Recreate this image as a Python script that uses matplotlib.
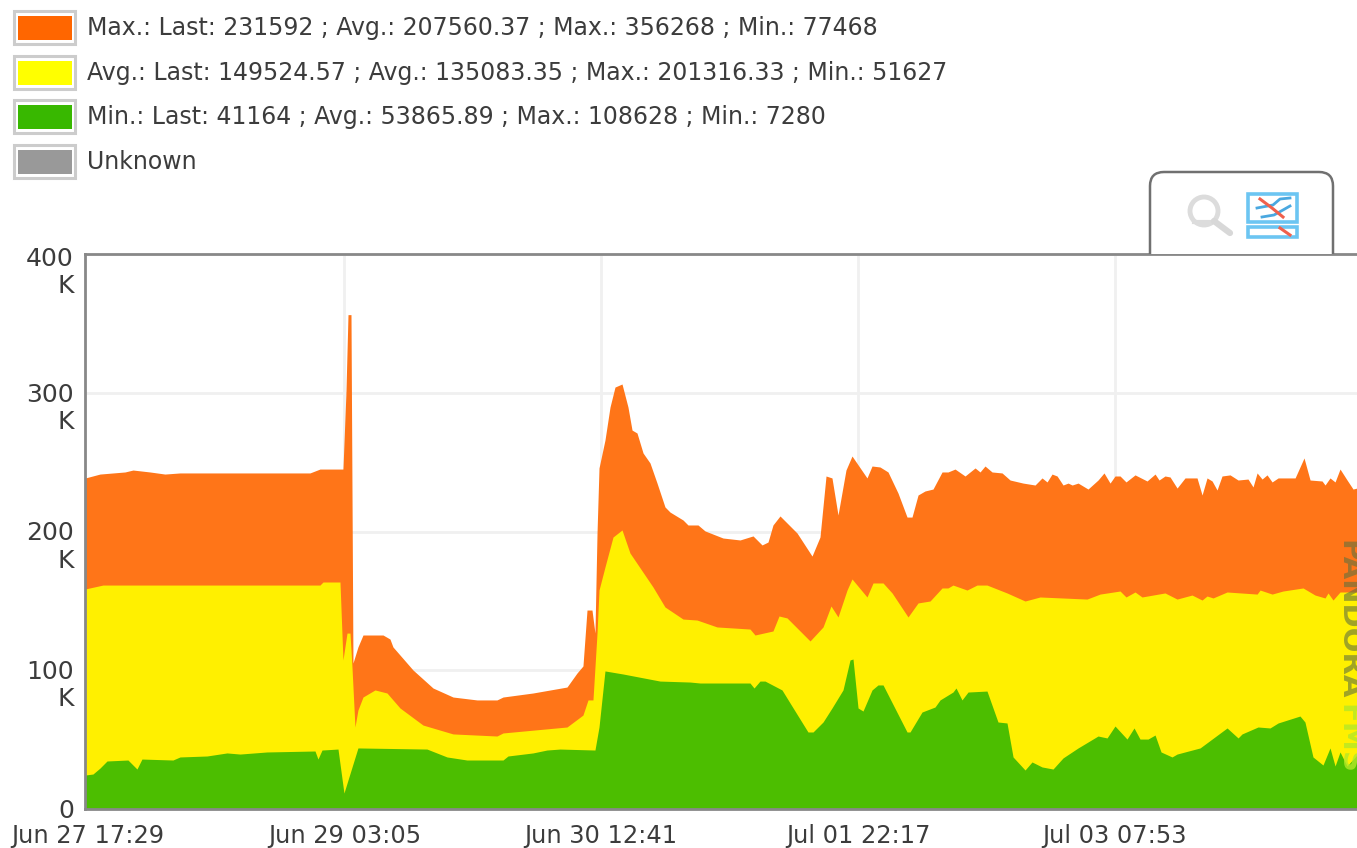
import matplotlib
matplotlib.use('Agg')
import matplotlib.pyplot as plt
from matplotlib.patches import Rectangle, Circle, PathPatch
from matplotlib.path import Path
from matplotlib.transforms import ScaledTranslation

# hours since Jun 27 17:29, values in thousands
max_hours = [-0.3, 1.61, 4.88, 5.93, 8.15, 10.11, 12.08, 14.69, 17.31, 22.54, 29.08, 30.39, 33.40, 33.79, 34.06, 34.45,
             34.71, 35.36, 36.02, 38.64, 39.55, 39.94, 42.56, 45.18, 47.80, 50.94, 53.55, 54.34, 58.26, 62.71, 64.02,
             64.80, 65.33, 65.98, 66.37, 66.64, 66.90, 67.68, 68.34, 68.99, 69.91, 70.69, 71.22, 71.87, 72.66, 73.57,
             74.49, 75.53, 76.19, 77.89, 78.54, 79.85, 80.77, 83.12, 85.35, 87.05, 88.23, 89.01, 89.66, 90.58, 92.81,
             94.77, 95.81, 96.60, 97.38, 98.17, 99.21, 100.00, 101.96, 102.62, 103.66, 104.71, 106.02, 107.20, 107.85,
             108.64, 109.55, 110.60, 111.78, 112.56, 113.48, 114.79, 116.10, 116.75, 117.40, 118.32, 119.63, 120.68,
             122.38, 123.95, 124.86, 125.52, 126.17, 126.83, 127.61, 128.27, 128.80, 129.58, 130.88, 132.19, 132.97,
             133.76, 134.41, 135.07, 135.85, 137.03, 138.60, 139.65, 140.17, 140.95, 141.61, 142.53, 143.57, 145.14,
             145.80, 146.45, 147.11, 147.76, 148.41, 149.46, 150.51, 151.81, 152.47, 153.00, 153.65, 154.30, 154.96,
             155.75, 157.97, 159.14, 159.93, 161.50, 161.89, 162.54, 163.20, 163.85, 164.77, 165.55, 166.07]
max_vals = [238.6, 241.4, 242.9, 244.3, 242.9, 241.4, 242.2, 242.2, 242.2, 242.2, 242.2, 245.0, 245.0, 300.0, 356.3,
            356.3, 105.2, 116.8, 125.4, 125.4, 122.5, 116.8, 100.2, 87.2, 80.7, 78.6, 78.6, 80.7, 83.6, 87.9, 98.0,
            103.1, 143.4, 143.4, 126.8, 198.9, 245.8, 265.9, 289.7, 304.1, 306.3, 289.7, 273.1, 271.0, 256.6, 249.4,
            234.9, 217.7, 214.0, 208.3, 204.7, 204.7, 200.4, 195.3, 193.9, 196.8, 190.3, 192.4, 204.7, 211.2, 198.9,
            182.3, 196.0, 240.0, 238.6, 211.9, 244.3, 254.4, 238.6, 247.2, 246.5, 242.9, 227.7, 210.4, 210.4, 226.3,
            229.2, 230.6, 242.9, 242.9, 245.0, 240.0, 245.8, 242.9, 247.2, 242.9, 242.2, 237.1, 234.9, 233.5, 238.6,
            235.7, 241.4, 240.0, 233.5, 234.9, 233.5, 234.9, 230.6, 237.1, 242.2, 234.9, 240.0, 240.0, 235.7, 240.8,
            236.4, 241.4, 237.1, 240.0, 239.3, 231.3, 238.6, 238.6, 226.3, 238.6, 236.4, 229.9, 240.0, 240.8, 237.1,
            237.8, 232.1, 242.2, 237.8, 240.8, 235.7, 238.6, 238.6, 253.0, 237.1, 236.4, 233.5, 238.6, 235.7, 245.0,
            237.1, 230.6, 231.3]

avg_hours = [-0.3, 2.0, 30.39, 30.79, 33.01, 33.40, 33.93, 34.32, 34.58, 34.97, 35.36, 36.02, 37.59, 39.16, 40.86,
             43.87, 47.80, 53.55, 54.34, 62.71, 64.80, 65.46, 66.11, 66.64, 66.90, 67.68, 68.73, 69.91, 70.95, 73.96,
             75.53, 77.89, 79.72, 82.34, 86.65, 87.31, 89.66, 90.45, 91.50, 94.51, 96.21, 97.25, 98.17, 99.35, 100.00,
             101.96, 102.75, 104.06, 105.24, 107.33, 108.64, 110.21, 111.78, 112.56, 113.21, 115.05, 116.35, 117.66,
             120.28, 122.64, 124.60, 130.75, 132.45, 135.07, 135.85, 137.03, 137.94, 140.95, 142.53, 144.49, 145.80,
             146.45, 147.24, 149.07, 153.00, 153.39, 154.96, 156.39, 159.01, 160.58, 161.89, 162.28, 162.93, 163.85,
             166.07]
avg_vals = [158.6, 161.4, 161.4, 163.6, 163.6, 107.4, 126.8, 126.8, 102.3, 59.1, 71.3, 80.7, 85.8, 83.6, 72.8, 60.5,
            54.1, 52.6, 54.8, 59.1, 67.7, 78.6, 78.6, 126.8, 157.8, 174.4, 196.0, 201.1, 184.5, 160.0, 145.6, 136.9,
            136.2, 131.2, 129.7, 125.4, 128.3, 139.1, 137.7, 121.1, 131.2, 146.3, 138.4, 157.8, 165.8, 152.8, 162.9,
            162.9, 155.7, 138.4, 148.5, 149.9, 159.3, 159.3, 161.4, 157.8, 161.4, 161.4, 155.7, 149.9, 152.8, 151.3,
            154.9, 157.1, 152.8, 156.4, 152.8, 155.7, 151.3, 154.2, 150.6, 153.5, 152.1, 156.4, 154.9, 157.8, 154.9,
            157.1, 159.3, 154.2, 152.1, 155.7, 150.6, 156.4, 156.4]

min_hours = [-0.3, 0.69, 1.61, 2.53, 5.27, 6.45, 7.10, 11.16, 12.08, 15.61, 18.23, 19.93, 23.46, 29.74, 30.13, 30.66,
             32.75, 33.53, 35.36, 44.39, 47.01, 49.62, 54.34, 54.99, 58.26, 60.09, 61.80, 66.37, 66.90, 67.68, 70.04,
             74.88, 78.81, 80.11, 86.65, 87.18, 87.96, 88.62, 90.84, 91.89, 94.24, 94.90, 96.21, 97.38, 98.82, 99.74,
             100.13, 100.79, 101.44, 102.62, 103.40, 104.06, 107.20, 107.59, 109.16, 110.86, 111.52, 113.21, 113.61,
             114.39, 115.18, 117.66, 119.10, 120.28, 121.07, 122.64, 123.55, 124.86, 126.30, 127.61, 129.58, 132.19,
             133.37, 134.41, 135.98, 136.90, 137.68, 138.73, 139.65, 140.43, 141.87, 142.53, 145.54, 149.07, 150.51,
             151.03, 153.12, 154.69, 155.75, 158.61, 159.26, 160.31, 161.62, 162.54, 163.20, 163.85, 164.77, 166.07]
min_vals = [24.5, 25.2, 29.5, 34.6, 35.3, 28.8, 36.0, 35.3, 37.5, 38.2, 40.4, 39.6, 41.1, 41.8, 36.0, 42.5, 43.2, 11.5,
            44.0, 43.2, 37.5, 35.3, 35.3, 38.2, 40.4, 42.5, 43.2, 42.5, 59.1, 99.5, 97.3, 92.2, 91.5, 90.8, 90.8, 87.2,
            92.2, 92.2, 85.8, 76.4, 55.5, 55.5, 62.7, 72.8, 85.8, 107.4, 108.1, 72.8, 70.6, 85.8, 89.4, 89.4, 55.5,
            55.5, 69.9, 73.5, 78.6, 84.3, 87.2, 78.6, 84.3, 85.0, 62.7, 62.0, 37.5, 28.1, 33.9, 30.3, 28.8, 36.8, 44.0,
            52.6, 51.2, 59.8, 50.4, 58.4, 50.4, 50.4, 53.3, 41.1, 37.5, 39.6, 44.0, 58.4, 51.2, 54.1, 59.1, 58.4, 62.0,
            67.0, 62.7, 37.5, 31.7, 44.0, 31.0, 41.1, 31.0, 38.9]

x_ticks = [0, 33.6, 67.2, 100.8, 134.4]
x_labels = ['Jun 27 17:29', 'Jun 29 03:05', 'Jun 30 12:41', 'Jul 01 22:17', 'Jul 03 07:53']
y_ticks = [0, 100, 200, 300, 400]
y_labels = ['0', '100\nK', '200\nK', '300\nK', '400\nK']
legend_labels = ['Max.: Last: 231592 ; Avg.: 207560.37 ; Max.: 356268 ; Min.: 77468',
                 'Avg.: Last: 149524.57 ; Avg.: 135083.35 ; Max.: 201316.33 ; Min.: 51627',
                 'Min.: Last: 41164 ; Avg.: 53865.89 ; Max.: 108628 ; Min.: 7280',
                 'Unknown']
legend_colors = ['#ff6600', '#ffff00', '#38b800', '#999999']

W, H = 1357, 848
text_color = '#3c3c3c'
fig = plt.figure(figsize=(W / 100, H / 100), dpi=100)

# main chart
ax = fig.add_axes([85 / W, (H - 809) / H, (W - 85) / W, 555 / H])
ax.fill_between(max_hours, max_vals, color='#ff7518', lw=0, zorder=2)
ax.fill_between(avg_hours, avg_vals, color='#fff000', lw=0, zorder=3)
ax.fill_between(min_hours, min_vals, color='#4cbe00', lw=0, zorder=4)
ax.set_xlim(-0.35, 166.07)
ax.set_ylim(0, 400)
ax.grid(True, color='#f0f0f0', lw=2)
ax.set_axisbelow(True)
ax.set_xticks(x_ticks)
ax.set_xticklabels(x_labels, fontsize=17.4, color=text_color)
ax.set_yticks(y_ticks)
ax.set_yticklabels(y_labels, fontsize=18, color=text_color, linespacing=1.17, multialignment='right')
ax.tick_params(length=0)
ax.tick_params(axis='x', pad=11)
ax.tick_params(axis='y', pad=8)
ax.get_xgridlines()[0].set_visible(False)
# the 400 label sits a little lower than the others
for lab, up in zip(ax.get_yticklabels()[1:], [10, 10, 10, 7]):
    shift = ScaledTranslation(0, up / 100, fig.dpi_scale_trans)
    lab.set_va('top')
    lab.set_transform(lab.get_transform() + shift)
for name in ['top', 'left', 'bottom']:
    ax.spines[name].set_color('#888888')
    ax.spines[name].set_linewidth(2)
    ax.spines[name].set_zorder(6)
ax.spines['right'].set_visible(False)

# overlay in picture pixels for legend, tab and watermark
over = fig.add_axes([0, 0, 1, 1], facecolor='none')
over.set_xlim(0, W)
over.set_ylim(H, 0)
over.axis('off')

box_tops = [11, 56, 100, 145]
for top, color, label in zip(box_tops, legend_colors, legend_labels):
    over.add_patch(Rectangle((14, top), 61, 33, fc='white', ec='#cccccc', lw=2.2))
    over.add_patch(Rectangle((18, top + 5), 54, 24, fc=color, ec='none'))
    over.text(87, top + 17, label, fontsize=17, color=text_color, va='center', ha='left')

# tab with the two icons
tab = Path([(1150, 254), (1150, 186), (1150, 172), (1164, 172), (1319, 172), (1333, 172), (1333, 186), (1333, 254)],
           [Path.MOVETO, Path.LINETO, Path.CURVE3, Path.CURVE3, Path.LINETO, Path.CURVE3, Path.CURVE3, Path.LINETO])
over.add_patch(PathPatch(tab, fc='white', ec='#707070', lw=1.8))
over.add_patch(Circle((1204, 211), 14, fc='none', ec='#dcdcdc', lw=3.5))
over.plot([1194, 1213], [222, 222], color='#dcdcdc', lw=3)
over.plot([1214, 1230], [221, 233], color='#d8d8d8', lw=4.5, solid_capstyle='round')
over.add_patch(Rectangle((1248, 194), 49, 28, fc='white', ec='#6cc5f2', lw=2.6))
over.add_patch(Rectangle((1248, 227), 49, 10, fc='white', ec='#6cc5f2', lw=2.6))
over.plot([1257, 1273, 1280, 1290], [208, 205, 199, 198], color='#4aa8e0', lw=2)
over.plot([1262, 1274, 1283, 1290], [217, 215, 210, 206], color='#4aa8e0', lw=2)
over.plot([1260, 1272, 1283], [199, 208, 217], color='#f0604c', lw=2.2)
over.plot([1280, 1290], [228, 235], color='#f0604c', lw=2.2)

# watermark running off the right edge
over.text(1334, 540, 'PANDORA', rotation=-90, fontsize=21, fontweight='bold', color='#5f7040', alpha=0.6,
          ha='left', va='top')
over.text(1334, 704, 'FMS', rotation=-90, fontsize=21, fontweight='bold', color='#b4e828', alpha=0.8,
          ha='left', va='top')

fig.savefig('out.png', dpi=100)
